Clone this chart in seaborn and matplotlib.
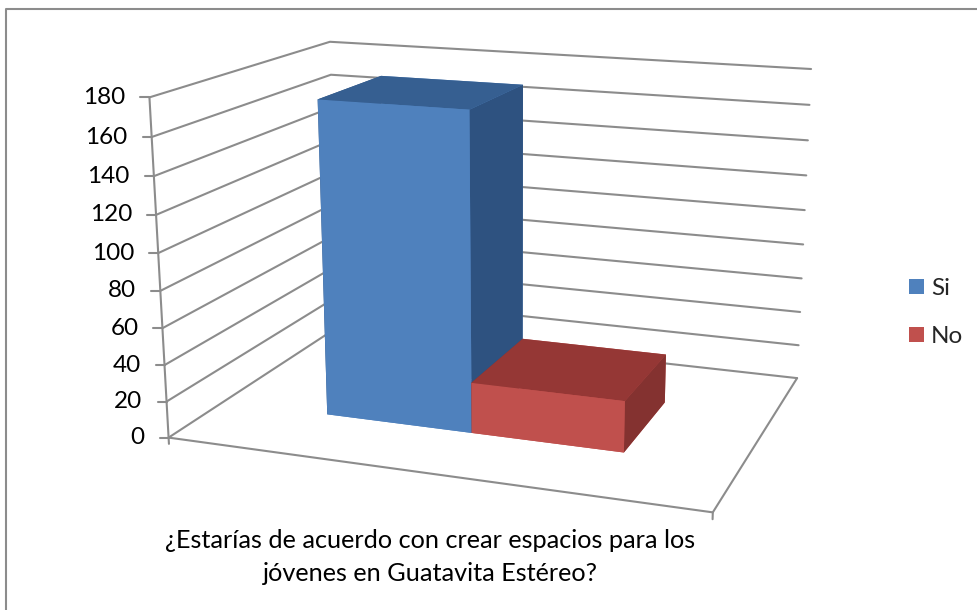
import numpy as np
import pandas as pd
import seaborn as sns
import matplotlib
matplotlib.use("Agg")
import matplotlib.pyplot as plt
from matplotlib.lines import Line2D
from matplotlib.patches import Patch

# Survey answers
categories = ["Si", "No"]
respuestas = [173, 28]
z_ticks = [0, 20, 40, 60, 80, 100, 120, 140, 160, 180]
pregunta = "¿Estarías de acuerdo con crear espacios para los\njóvenes en Guatavita Estéreo?"

sns.set_theme(style="white")
plt.rcParams["font.family"] = ["Lato", "DejaVu Sans"]

df = pd.DataFrame({"respuesta": categories, "total": respuestas})
front_colors = sns.color_palette(["#4F81BD", "#C0504D"])
top_colors = sns.color_palette(["#365F91", "#953735"])
side_colors = sns.color_palette(["#2E5280", "#843230"])

W, H = 977, 610
GRID = "#8C8C8C"
fig = plt.figure(figsize=(W / 100, H / 100), dpi=100, facecolor="white")
ax = fig.add_axes([0, 0, 1, 1], projection="3d", computed_zorder=False)
ax.set_axis_off()
ax.set_proj_type("ortho")  # turns off the depth clipping of lines
ax.set_xlim(0, 1)
ax.set_ylim(0, 1)
ax.set_zlim(0, 180)
# Keep the drawing area equal to the whole figure
ax.apply_aspect = lambda position=None: None

# Camera calibration: floor and wall corners (x, y, z) against their pixel position
world = np.array([
    [0, 0, 0], [1, 0, 0], [1, 1, 0], [0, 1, 0],
    [0, 0, 180], [0, 1, 180], [1, 1, 180],
], float)
pixels = np.array([
    [166, 440], [713, 510], [796, 381], [341, 324],
    [152, 97], [327, 43], [812, 68],
], float)


def calibrate(points, targets):
    rows = []
    for (x, y, z), (u, v) in zip(points, targets):
        rows.append([x, y, z, 1, 0, 0, 0, 0, -u * x, -u * y, -u * z, -u])
        rows.append([0, 0, 0, 0, x, y, z, 1, -v * x, -v * y, -v * z, -v])
    camera = np.linalg.svd(np.array(rows))[2][-1].reshape(3, 4)
    if camera[2, 3] < 0:
        camera = -camera
    return camera / camera[2, 3]


camera = calibrate(world, pixels)


def to_pixel(x, y, z):
    u, v, w = camera @ np.array([x, y, z, 1.0])
    return u / w, v / w


def projection():
    # Pixel positions to the coordinates of the 2D view limits
    x0, x1 = ax.viewLim.intervalx
    y0, y1 = ax.viewLim.intervaly
    to_view = np.array([
        [(x1 - x0) / W, 0, x0],
        [0, -(y1 - y0) / H, y1],
        [0, 0, 1],
    ])
    p = to_view @ camera
    depth = np.array([-0.09, 0.3, -0.0006, 0.0])
    return np.vstack([p[0], p[1], depth, p[2]])


ax.get_proj = projection

line = dict(color=GRID, lw=1.5, zorder=1, solid_capstyle="round")
# Walls and floor
for z in z_ticks:
    ax.plot([0, 0, 1], [0, 1, 1], [z, z, z], **line)
ax.plot([0, 0], [0, 0], [0, 180], **line)
ax.plot([0, 1, 1], [0, 0, 1], [0, 0, 0], **line)
ax.plot([1, 1], [0, 0], [-3.5, 0], **line)
ax.plot([0, 0], [0, 0], [-3.5, 0], **line)


def figure_line(us, vs):
    fig.add_artist(Line2D(np.array(us) / W, 1 - np.array(vs) / H, transform=fig.transFigure,
                          color=GRID, lw=1.5))


# Value axis ticks and labels
for z in z_ticks:
    u, v = to_pixel(0, 0, z)
    figure_line([u - 9, u], [v, v])
    fig.text((u - 24) / W, 1 - v / H, str(z), ha="right", va="center", fontsize=17.5, color="black")

# Columns, left series first so that the right one covers its side face
edges_x = [0.215, 0.503, 0.79]
front_y, back_y = 0.29, 0.68
for i, row in df.iterrows():
    faces = [front_colors[i], top_colors[i], front_colors[i],
             front_colors[i], side_colors[i], side_colors[i]]
    ax.bar3d(edges_x[i], front_y, 0, edges_x[i + 1] - edges_x[i], back_y - front_y,
             row["total"], color=faces, shade=False, zorder=3 + i, edgecolor="none")

fig.text(430 / W, 1 - 557 / H, pregunta, ha="center", va="center", fontsize=18.2,
         color="black", linespacing=1.55)

handles = [Patch(facecolor=c, edgecolor="none") for c in front_colors]
fig.legend(handles, categories, loc="center left", bbox_to_anchor=(909 / W, 1 - 312.5 / H),
           frameon=False, fontsize=17.5, handlelength=0.62, handleheight=0.62,
           handletextpad=0.29, labelspacing=1.115, borderpad=0, borderaxespad=0)

# Chart frame: left and top edges
figure_line([6, 6, W], [H, 9, 9])

fig.savefig("out.png", dpi=100)
